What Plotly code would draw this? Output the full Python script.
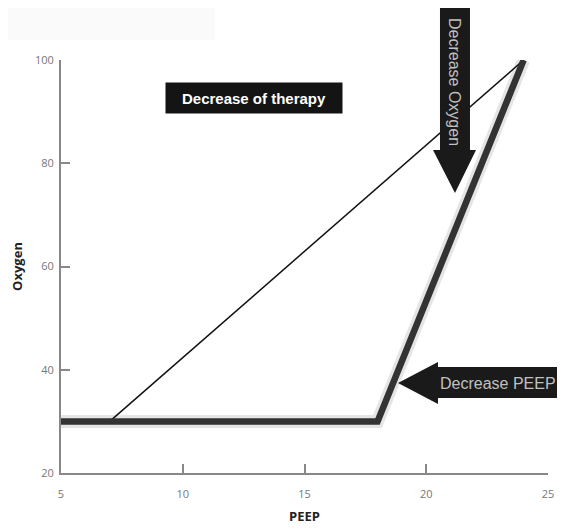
import plotly.graph_objects as go

# Data
peep_thick = [5, 18, 24]
oxygen_thick = [30, 30, 100]
peep_thin = [7, 24]
oxygen_thin = [30, 100]
x_ticks = [5, 10, 15, 20, 25]
y_ticks = [20, 40, 60, 80, 100]

OFF = 8  # page body margin
W, H = 565 - OFF, 529 - OFF
L, T = 61 - OFF, 60 - OFF
R = W - (548 - OFF)
B = H - (473 - OFF)
PW, PH = W - L - R, H - T - B

def px(x):
    return (x - OFF - L) / PW

def py(y):
    return (H - B - (y - OFF)) / PH

def path(pts):
    return "M " + " L ".join(f"{px(a):.4f},{py(b):.4f}" for a, b in pts) + " Z"

fig = go.Figure()
# soft shadow of thick line
fig.add_trace(go.Scatter(x=peep_thick, y=oxygen_thick, mode="lines",
                         line=dict(color="rgba(0,0,0,0.10)", width=13),
                         hoverinfo="skip", showlegend=False))
fig.add_trace(go.Scatter(x=peep_thin, y=oxygen_thin, mode="lines",
                         line=dict(color="#111111", width=1.5), showlegend=False))
fig.add_trace(go.Scatter(x=peep_thick, y=oxygen_thick, mode="lines",
                         line=dict(color="#333333", width=6.5), showlegend=False))

shapes = [
    # faint header block
    dict(type="rect", xref="paper", yref="paper", x0=px(OFF), x1=px(215), y0=py(40), y1=py(OFF),
         fillcolor="#fafafa", line=dict(width=0), layer="below"),
    # down arrow
    dict(type="path", xref="paper", yref="paper",
         path=path([(440, 8), (470, 8), (470, 150), (476, 150), (455, 193), (433, 150), (440, 150)]),
         fillcolor="#1a1a1a", line=dict(width=0)),
    # left arrow
    dict(type="path", xref="paper", yref="paper",
         path=path([(565, 367), (438, 367), (438, 362), (398, 383), (438, 404), (438, 398), (565, 398)]),
         fillcolor="#1a1a1a", line=dict(width=0)),
]

annotations = [
    dict(text="<b>Decrease of therapy</b>", xref="paper", yref="paper", x=px(254), y=py(98),
         xanchor="center", yanchor="middle",
         showarrow=False, font=dict(color="white", size=15, family="Liberation Sans"),
         bgcolor="#141414", width=174, height=28, borderpad=1),
    dict(text="Decrease Oxygen", xref="paper", yref="paper", x=px(455), y=py(82),
         xanchor="center", yanchor="middle",
         showarrow=False, textangle=90, font=dict(color="#c0c0c0", size=16, family="Liberation Sans")),
    dict(text="Decrease PEEP", xref="paper", yref="paper", x=px(498), y=py(383),
         xanchor="center", yanchor="middle",
         showarrow=False, font=dict(color="#c0c0c0", size=16, family="Liberation Sans")),
]

fig.update_layout(
    width=W, height=H,
    margin=dict(l=L, r=R, t=T, b=B, autoexpand=False),
    paper_bgcolor="white", plot_bgcolor="white",
    shapes=shapes, annotations=annotations,
    font=dict(family="Open Sans", color="#777777", size=11),
    xaxis=dict(range=[5, 25], tickvals=x_ticks, ticks="inside", ticklen=9, tickwidth=2,
               tickcolor="#888888", showline=True, linecolor="#888888", linewidth=2,
               showgrid=False, zeroline=False, ticklabelstandoff=10, automargin=False,
               tickfont=dict(color="#777777", size=11),
               title=dict(text="<b>PEEP</b>", font=dict(color="#222222", size=13), standoff=12)),
    yaxis=dict(range=[20, 100], tickvals=y_ticks, ticks="inside", ticklen=9, tickwidth=2,
               tickcolor="#888888", showline=True, linecolor="#888888", linewidth=2,
               showgrid=False, zeroline=False, ticklabelstandoff=3, automargin=False,
               tickfont=dict(color="#777777", size=11),
               title=dict(text="<b>Oxygen</b>", font=dict(color="#222222", size=13), standoff=11)),
)

fig.write_html("out.html")
